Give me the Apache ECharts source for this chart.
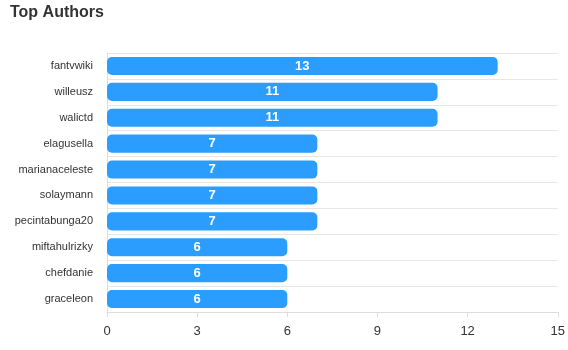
<!DOCTYPE html>
<html>
<head>
<meta charset="utf-8">
<script src="https://cdn.jsdelivr.net/npm/echarts@6/dist/echarts.min.js"></script>
<style>
  html, body { margin: 0; padding: 0; background: #fff; }
  #chart { width: 568px; height: 350px; }
</style>
</head>
<body>
<div id="chart"></div>
<script>
// Authors ranked by contribution count (top to bottom)
const authors = ['fantvwiki', 'willeusz', 'walictd', 'elagusella', 'marianaceleste',
  'solaymann', 'pecintabunga20', 'miftahulrizky', 'chefdanie', 'graceleon'];
const counts = [13, 11, 11, 7, 7, 7, 7, 6, 6, 6];
const xTicks = [0, 3, 6, 9, 12, 15];

const FONT = 'Arial, Liberation Sans, sans-serif';

const chart = echarts.init(document.getElementById('chart'));
chart.setOption({
  animation: false,
  title: {
    text: 'Top Authors',
    left: 5,
    top: 0,
    textStyle: { fontSize: 16, fontWeight: 'bold', color: '#333', fontFamily: FONT }
  },
  grid: { left: 107, right: 10, top: 53, bottom: 38 },
  xAxis: {
    type: 'value',
    min: xTicks[0],
    max: xTicks[xTicks.length - 1],
    interval: xTicks[1] - xTicks[0],
    axisLine: { show: true, lineStyle: { color: '#ddd' } },
    axisTick: { show: true, length: 5, lineStyle: { color: '#ddd' } },
    splitLine: { show: false },
    axisLabel: { color: '#333', fontSize: 13, margin: 13, fontFamily: FONT }
  },
  yAxis: {
    type: 'category',
    data: authors,
    inverse: true,
    axisLine: { show: true, lineStyle: { color: '#ddd' } },
    axisTick: { show: false },
    splitLine: { show: true, lineStyle: { color: '#e6e6e6' } },
    axisLabel: { color: '#333', fontSize: 11, margin: 14, fontFamily: FONT }
  },
  series: [{
    type: 'bar',
    data: counts,
    barWidth: '70%',
    itemStyle: { color: '#2a9dff', borderRadius: 5 },
    label: {
      show: true,
      position: 'inside',
      color: '#fff',
      fontWeight: 'bold',
      fontSize: 13,
      fontFamily: FONT
    }
  }]
});
</script>
</body>
</html>
